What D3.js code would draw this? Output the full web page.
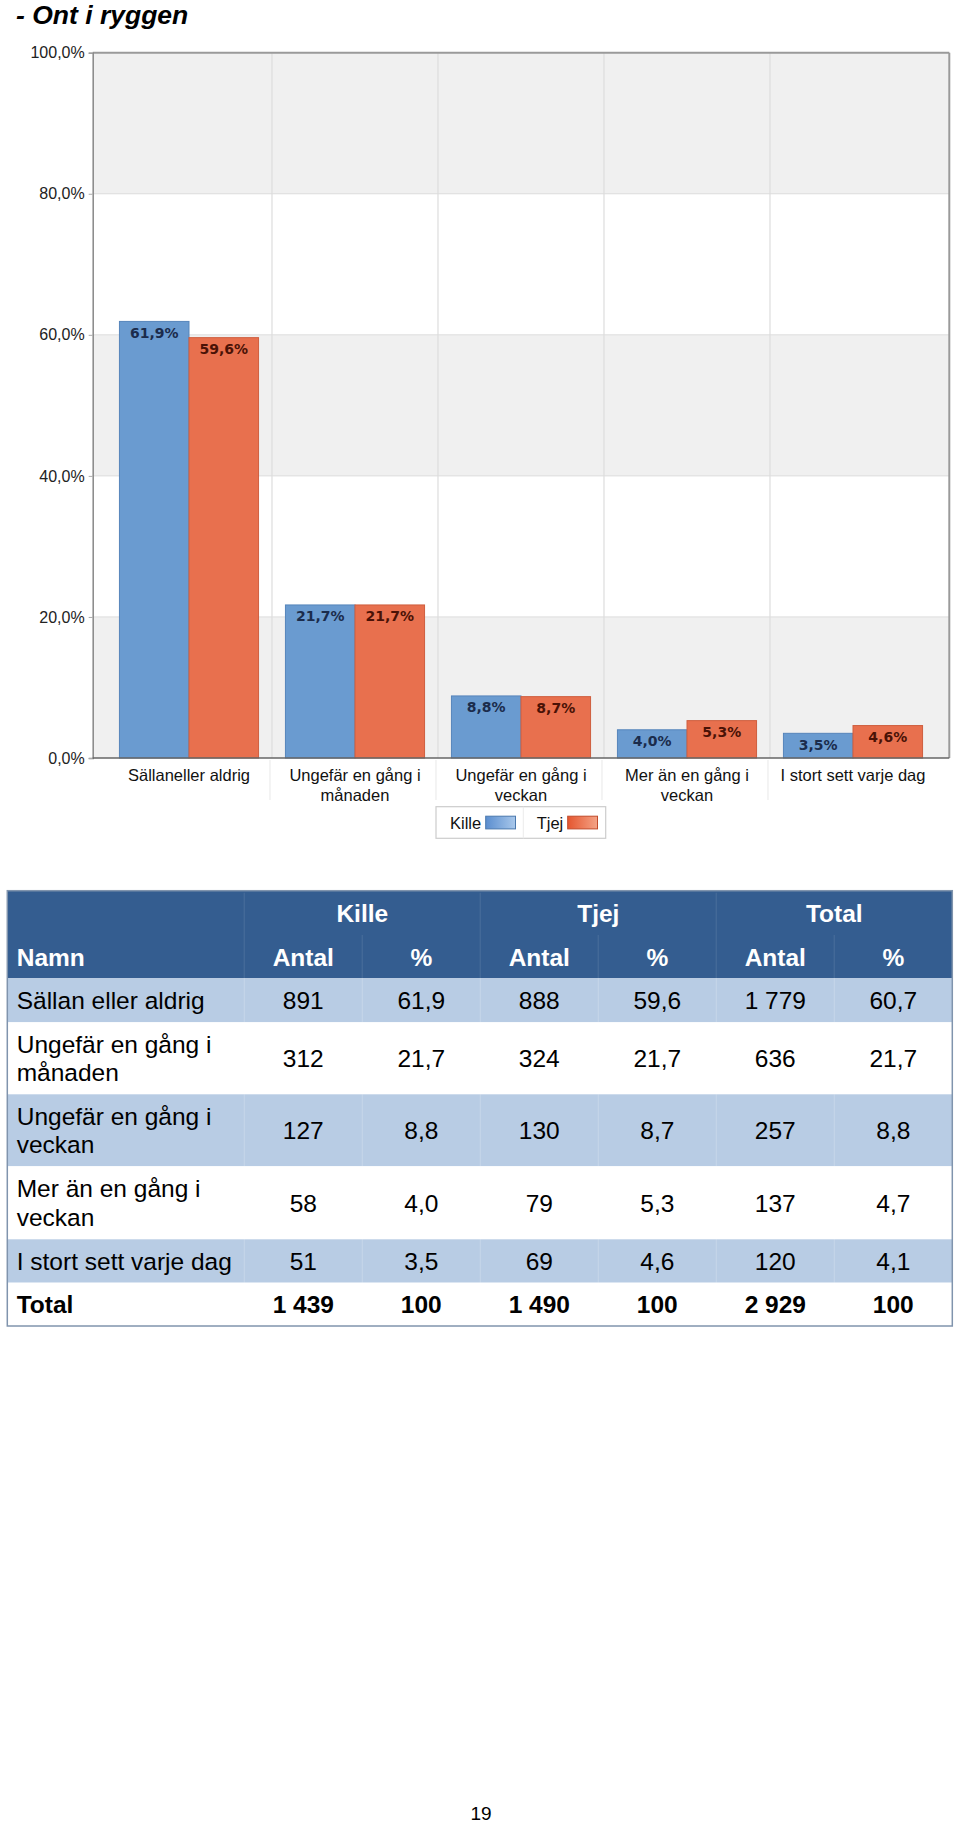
<!DOCTYPE html>
<html>
<head>
<meta charset="utf-8">
<script src="https://cdn.jsdelivr.net/npm/d3@7"></script>
<style>
  html, body { margin: 0; padding: 0; background: #ffffff; }
  svg { display: block; }
</style>
</head>
<body>
<div id="chart"></div>
<script>
// ---------- DATA ----------
const title = "- Ont i ryggen";
const categories = ["Sällaneller aldrig", "Ungefär en gång i månaden", "Ungefär en gång i veckan", "Mer än en gång i veckan", "I stort sett varje dag"];
const categoryLines = [["Sällaneller aldrig"], ["Ungefär en gång i", "månaden"], ["Ungefär en gång i", "veckan"], ["Mer än en gång i", "veckan"], ["I stort sett varje dag"]];
const seriesNames = ["Kille", "Tjej"];
const killeValues = [61.9, 21.7, 8.8, 4.0, 3.5];
const tjejValues = [59.6, 21.7, 8.7, 5.3, 4.6];
const yTicks = [0, 20, 40, 60, 80, 100];

const tableGroups = ["Kille", "Tjej", "Total"];
const tableSubHeaders = ["Namn", "Antal", "%", "Antal", "%", "Antal", "%"];
const rowNames = [["Sällan eller aldrig"], ["Ungefär en gång i", "månaden"], ["Ungefär en gång i", "veckan"], ["Mer än en gång i", "veckan"], ["I stort sett varje dag"], ["Total"]];
const killeAntal = ["891", "312", "127", "58", "51", "1 439"];
const killePct = ["61,9", "21,7", "8,8", "4,0", "3,5", "100"];
const tjejAntal = ["888", "324", "130", "79", "69", "1 490"];
const tjejPct = ["59,6", "21,7", "8,7", "5,3", "4,6", "100"];
const totalAntal = ["1 779", "636", "257", "137", "120", "2 929"];
const totalPct = ["60,7", "21,7", "8,8", "4,7", "4,1", "100"];
const pageNumber = "19";

// ---------- STYLE ----------
const W = 960, H = 1826;
const colors = { Kille: "#6a9bd0", Tjej: "#e8704e" };
const strokeColors = { Kille: "#5685bb", Tjej: "#cf5e3f" };
const labelColors = { Kille: "#1b2c4c", Tjej: "#4a1206" };
const sans = "'Liberation Sans', Arial, sans-serif";

const svg = d3.select("#chart").append("svg").attr("width", W).attr("height", H);

// defs: legend gradients
const defs = svg.append("defs");
const gradK = defs.append("linearGradient").attr("id", "gK");
gradK.append("stop").attr("offset", "0%").attr("stop-color", "#5b8ecf");
gradK.append("stop").attr("offset", "100%").attr("stop-color", "#a9c8eb");
const gradT = defs.append("linearGradient").attr("id", "gT");
gradT.append("stop").attr("offset", "0%").attr("stop-color", "#e5562f");
gradT.append("stop").attr("offset", "100%").attr("stop-color", "#f4a386");

// title
svg.append("text").attr("x", 16).attr("y", 24)
  .style("font-family", sans).style("font-size", "26.5px").style("font-weight", "bold").style("font-style", "italic")
  .attr("fill", "#000").text(title);

// ---------- CHART ----------
const frame = { left: 92.7, right: 949.3, top: 52.7, bottom: 758 };
const y = d3.scaleLinear().domain([0, 100]).range([frame.bottom, frame.top]);
const x0 = d3.scaleBand().domain(categories).range([106, 936]).padding(0);
const inset = x0.bandwidth() * 0.081;
const x1 = d3.scaleBand().domain(seriesNames).range([inset, x0.bandwidth() - inset]).padding(0);

const plot = svg.append("g");
// background bands
for (let i = 0; i < yTicks.length - 1; i++) {
  plot.append("rect")
    .attr("x", frame.left).attr("width", frame.right - frame.left)
    .attr("y", y(yTicks[i + 1])).attr("height", y(yTicks[i]) - y(yTicks[i + 1]))
    .attr("fill", i % 2 === 0 ? "#f0f0f0" : "#ffffff");
}
// horizontal gridlines
plot.selectAll("line.hg").data(yTicks.slice(1, -1)).enter().append("line")
  .attr("x1", frame.left).attr("x2", frame.right)
  .attr("y1", d => y(d)).attr("y2", d => y(d))
  .attr("stroke", "#dcdcdc").attr("stroke-width", 1);
// vertical gridlines at category boundaries
const bounds = categories.slice(1).map(c => x0(c));
plot.selectAll("line.vg").data(bounds).enter().append("line")
  .attr("x1", d => d).attr("x2", d => d)
  .attr("y1", frame.top).attr("y2", frame.bottom)
  .attr("stroke", "#dddddd").attr("stroke-width", 1.2);
// separators under axis
plot.selectAll("line.vs").data(bounds).enter().append("line")
  .attr("x1", d => d - 2).attr("x2", d => d - 2)
  .attr("y1", frame.bottom + 2).attr("y2", frame.bottom + 42)
  .attr("stroke", "#ececec").attr("stroke-width", 1.2);

// bars
const barData = [];
categories.forEach((c, i) => {
  barData.push({ cat: c, s: "Kille", v: killeValues[i] });
  barData.push({ cat: c, s: "Tjej", v: tjejValues[i] });
});
const bars = plot.append("g");
bars.selectAll("rect").data(barData).enter().append("rect")
  .attr("x", d => x0(d.cat) + x1(d.s))
  .attr("width", x1.bandwidth())
  .attr("y", d => y(d.v))
  .attr("height", d => y(0) - y(d.v))
  .attr("fill", d => colors[d.s])
  .attr("stroke", d => strokeColors[d.s]).attr("stroke-width", 1);
bars.selectAll("text").data(barData).enter().append("text")
  .attr("x", d => x0(d.cat) + x1(d.s) + x1.bandwidth() / 2)
  .attr("y", d => y(d.v) + 16.5)
  .attr("text-anchor", "middle")
  .style("font-family", "'DejaVu Sans', Verdana, sans-serif").style("font-size", "14px").style("font-weight", "bold")
  .attr("fill", d => labelColors[d.s])
  .text(d => d3.format(".1f")(d.v).replace(".", ",") + "%");

// frame lines
plot.append("line").attr("x1", frame.left).attr("x2", frame.right).attr("y1", frame.top).attr("y2", frame.top)
  .attr("stroke", "#9a9a9a").attr("stroke-width", 2);
plot.append("line").attr("x1", frame.right).attr("x2", frame.right).attr("y1", frame.top).attr("y2", frame.bottom)
  .attr("stroke", "#9a9a9a").attr("stroke-width", 2);

// y axis
const yAxis = d3.axisLeft(y).tickValues(yTicks).tickSize(4).tickPadding(4)
  .tickFormat(d => d3.format(".1f")(d).replace(".", ",") + "%");
const yg = svg.append("g").attr("transform", `translate(${frame.left},0)`).call(yAxis);
yg.select(".domain").attr("stroke", "#888").attr("stroke-width", 1.5);
yg.selectAll(".tick line").attr("stroke", "#aaa");
yg.selectAll(".tick text").style("font-family", sans).style("font-size", "16px").attr("fill", "#222");

// x axis
const xAxis = d3.axisBottom(x0).tickSize(0).tickFormat("");
const xg = svg.append("g").attr("transform", `translate(0,${frame.bottom})`).call(xAxis);
xg.select(".domain").attr("d", `M${frame.left},0H${frame.right}`).attr("stroke", "#666").attr("stroke-width", 1.5);
xg.selectAll(".tick").each(function (d, i) {
  const t = d3.select(this).append("text").attr("fill", "#111").attr("text-anchor", "middle")
    .style("font-family", sans).style("font-size", "16.5px");
  categoryLines[i].forEach((ln, j) => {
    t.append("tspan").attr("x", 0).attr("y", 23 + j * 20).text(ln);
  });
});

// legend
const lg = svg.append("g").attr("transform", "translate(436,806.7)");
lg.append("rect").attr("x", 0).attr("y", 0).attr("width", 169.7).attr("height", 31.6)
  .attr("fill", "#fff").attr("stroke", "#cccccc").attr("stroke-width", 1.2);
lg.append("line").attr("x1", 87.3).attr("x2", 87.3).attr("y1", 0).attr("y2", 31.6).attr("stroke", "#ececec");
const legendItems = [
  { name: "Kille", tx: 14, sx: 49.7, fill: "url(#gK)", stroke: "#4a78ad" },
  { name: "Tjej", tx: 100.7, sx: 131.7, fill: "url(#gT)", stroke: "#c04a2a" }
];
legendItems.forEach(it => {
  lg.append("text").attr("x", it.tx).attr("y", 22).style("font-family", sans).style("font-size", "16.5px")
    .attr("fill", "#111").text(it.name);
  lg.append("rect").attr("x", it.sx).attr("y", 9.5).attr("width", 29.8).attr("height", 12.7)
    .attr("fill", it.fill).attr("stroke", it.stroke).attr("stroke-width", 1);
});

// ---------- TABLE ----------
const tLeft = 7.3, tRight = 952.3;
const firstColW = 237;
const colW = (tRight - tLeft - firstColW) / 6;
const rowTops = [890.7, 935, 978.3, 1022.3, 1094.3, 1166.3, 1239.3, 1282.7, 1326];
const fills = ["#345d90", "#345d90", "#b8cce4", "#ffffff", "#b8cce4", "#ffffff", "#b8cce4", "#ffffff"];
const tfs = 24.5;
const tg = svg.append("g");
fills.forEach((f, i) => {
  tg.append("rect").attr("x", tLeft).attr("y", rowTops[i]).attr("width", tRight - tLeft)
    .attr("height", rowTops[i + 1] - rowTops[i]).attr("fill", f);
});
const colX = i => tLeft + firstColW + colW * i; // left edge of data column i
// column separators
for (let i = 0; i < 6; i++) {
  const xx = colX(i);
  if (i % 2 === 0) {
    tg.append("line").attr("x1", xx).attr("x2", xx).attr("y1", rowTops[0] + 2).attr("y2", rowTops[2])
      .attr("stroke", "#ffffff").attr("stroke-opacity", 0.08).attr("stroke-width", 1.5);
  } else {
    tg.append("line").attr("x1", xx).attr("x2", xx).attr("y1", rowTops[1]).attr("y2", rowTops[2])
      .attr("stroke", "#ffffff").attr("stroke-opacity", 0.08).attr("stroke-width", 1.5);
  }
  [2, 4, 6].forEach(r => {
    tg.append("line").attr("x1", xx).attr("x2", xx).attr("y1", rowTops[r]).attr("y2", rowTops[r + 1])
      .attr("stroke", "#ffffff").attr("stroke-opacity", 0.18).attr("stroke-width", 1.2);
  });
}
// outer border
tg.append("rect").attr("x", tLeft).attr("y", rowTops[0]).attr("width", tRight - tLeft)
  .attr("height", rowTops[8] - rowTops[0]).attr("fill", "none").attr("stroke", "#8094ad").attr("stroke-width", 1.5);

const txt = (x, yy, s, anchor, bold, color) => tg.append("text").attr("x", x).attr("y", yy)
  .attr("text-anchor", anchor).style("font-family", sans).style("font-size", tfs + "px")
  .style("font-weight", bold ? "bold" : "normal").attr("fill", color).text(s);

// header row 1
tableGroups.forEach((g, i) => {
  const cx = colX(i * 2) + colW;
  txt(cx, (rowTops[0] + rowTops[1]) / 2 + 9.5, g, "middle", true, "#ffffff");
});
// header row 2
tableSubHeaders.forEach((h, i) => {
  const yy = (rowTops[1] + rowTops[2]) / 2 + 9;
  if (i === 0) txt(tLeft + 9.4, yy, h, "start", true, "#ffffff");
  else txt(colX(i - 1) + colW / 2, yy, h, "middle", true, "#ffffff");
});
// body
const cols = [killeAntal, killePct, tjejAntal, tjejPct, totalAntal, totalPct];
rowNames.forEach((lines, r) => {
  const top = rowTops[r + 2], bot = rowTops[r + 3];
  const cy = (top + bot) / 2;
  const bold = r === rowNames.length - 1;
  const base = cy + 8.8;
  if (lines.length === 1) {
    txt(tLeft + 9.4, base, lines[0], "start", bold, "#000");
  } else {
    txt(tLeft + 9.4, base - 14.3, lines[0], "start", bold, "#000");
    txt(tLeft + 9.4, base + 14.3, lines[1], "start", bold, "#000");
  }
  cols.forEach((c, i) => {
    txt(colX(i) + colW / 2, base, c[r], "middle", bold, "#000");
  });
});

// page number
svg.append("text").attr("x", 481).attr("y", 1820).attr("text-anchor", "middle")
  .style("font-family", sans).style("font-size", "19px").attr("fill", "#000").text(pageNumber);
</script>
</body>
</html>
